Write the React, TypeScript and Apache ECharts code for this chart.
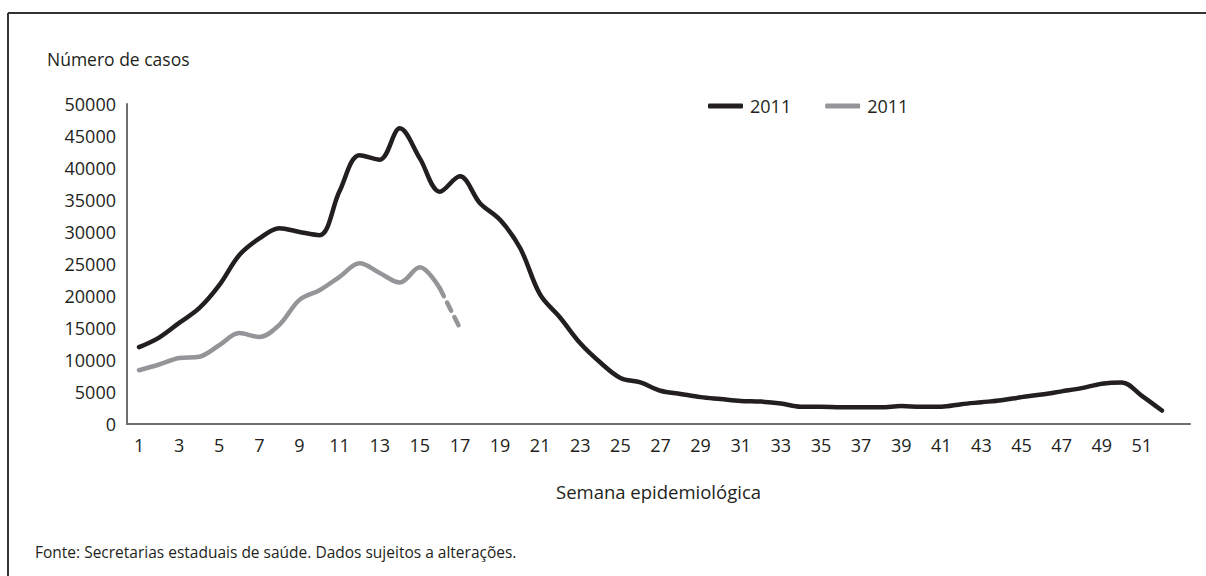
import React, { useEffect, useRef } from "react";
import * as echarts from "echarts";

const weeks = [
  1, 2, 3, 4, 5, 6, 7, 8, 9, 10, 11, 12, 13, 14, 15, 16, 17, 18, 19, 20, 21, 22, 23, 24, 25, 26,
  27, 28, 29, 30, 31, 32, 33, 34, 35, 36, 37, 38, 39, 40, 41, 42, 43, 44, 45, 46, 47, 48, 49, 50, 51, 52,
];

const cases2011 = [
  12000, 13500, 15800, 18100, 21700, 26400, 29000, 30600, 30000, 29500, 36400, 42000, 41300, 46200, 41500,
  36300, 38700, 34500, 31900, 27500, 20200, 16600, 12600, 9600, 7200, 6500, 5200, 4700, 4200, 3900, 3600,
  3500, 3200, 2700, 2700, 2600, 2600, 2600, 2800, 2700, 2700, 3100, 3400, 3700, 4200, 4600, 5100, 5600,
  6300, 6500, 4400, 2100,
];

const casesGraySolid = [
  8400, 9300, 10300, 10500, 12300, 14200, 13600, 15500, 19400, 20900, 23000, 25100, 23600, 22100, 24500, 21200,
];
const casesGrayDashed = [21200, 15000];
const grayDashedWeeks = [16, 17];

const xTickLabels = [1, 3, 5, 7, 9, 11, 13, 15, 17, 19, 21, 23, 25, 27, 29, 31, 33, 35, 37, 39, 41, 43, 45, 47, 49, 51];

const legendNames = ["2011", "2011 "];
const yAxisTitle = "Número de casos";
const xAxisTitle = "Semana epidemiológica";
const sourceNote = "Fonte: Secretarias estaduais de saúde. Dados sujeitos a alterações.";

const FONT = "'Open Sans', 'Noto Sans', sans-serif";
const TEXT = "#231f20";
const BLACK = "#231f20";
const GRAY = "#939598";
const AXIS = "#6d6e71";

export default function App() {
  const ref = useRef<HTMLDivElement>(null);

  useEffect(() => {
    if (!ref.current) return;
    const chart = echarts.init(ref.current, null, { renderer: "svg" });

    const blackData = weeks.map((w, i) => [w, cases2011[i]]);
    const graySolidData = casesGraySolid.map((v, i) => [weeks[i], v]);
    const grayDashedData = casesGrayDashed.map((v, i) => [grayDashedWeeks[i], v]);

    chart.setOption({
      animation: false,
      backgroundColor: "#ffffff",
      textStyle: { fontFamily: FONT, color: TEXT },
      grid: { left: 127, right: 16, top: 104, bottom: 152, containLabel: false },
      legend: {
        data: legendNames,
        left: 703,
        top: 92,
        icon: "roundRect",
        itemWidth: 35,
        itemHeight: 5,
        itemGap: 34,
        formatter: (name: string) => name.trim(),
        textStyle: { fontFamily: FONT, fontSize: 18, color: TEXT, padding: [0, 0, 0, 2] },
      },
      xAxis: {
        type: "value",
        min: 0.4,
        max: 53.4,
        splitLine: { show: false },
        axisTick: { show: false },
        axisLine: { show: true, lineStyle: { color: AXIS, width: 2 } },
        axisLabel: {
          customValues: xTickLabels,
          margin: 12,
          fontFamily: FONT,
          fontSize: 18,
          color: TEXT,
        },
        name: xAxisTitle,
        nameLocation: "middle",
        nameGap: 58,
        nameTextStyle: { fontFamily: FONT, fontSize: 18.5, color: TEXT },
      },
      yAxis: {
        type: "value",
        min: 0,
        max: 50000,
        interval: 5000,
        splitLine: { show: false },
        axisTick: { show: false },
        axisLine: { show: true, lineStyle: { color: AXIS, width: 2 } },
        axisLabel: {
          margin: 11,
          fontFamily: FONT,
          fontSize: 18,
          color: TEXT,
          formatter: (v: number) => String(v),
        },
      },
      graphic: [
        {
          type: "line",
          shape: { x1: 8, y1: 13, x2: 1206, y2: 13 },
          style: { stroke: "#333333", lineWidth: 2 },
        },
        {
          type: "line",
          shape: { x1: 8, y1: 13, x2: 8, y2: 576 },
          style: { stroke: "#333333", lineWidth: 2 },
        },
        {
          type: "text",
          left: 47,
          top: 50,
          style: { text: yAxisTitle, fontFamily: FONT, fontSize: 17.5, fill: TEXT },
        },
        {
          type: "text",
          left: 35,
          top: 544,
          style: { text: sourceNote, fontFamily: FONT, fontSize: 15.5, fill: TEXT },
        },
      ],
      series: [
        {
          name: legendNames[0],
          type: "line",
          data: blackData,
          smooth: 0.35,
          showSymbol: false,
          symbol: "none",
          itemStyle: { color: BLACK },
          lineStyle: { color: BLACK, width: 4.5, cap: "round", join: "round" },
          z: 3,
        },
        {
          name: legendNames[1],
          type: "line",
          data: graySolidData,
          smooth: 0.35,
          showSymbol: false,
          symbol: "none",
          itemStyle: { color: GRAY },
          lineStyle: { color: GRAY, width: 4.5, cap: "round", join: "round" },
          z: 2,
        },
        {
          name: "2011 parcial",
          type: "line",
          data: grayDashedData,
          smooth: 0.35,
          showSymbol: false,
          symbol: "none",
          itemStyle: { color: GRAY },
          lineStyle: { color: GRAY, width: 4.5, type: [9, 7], cap: "round" },
          z: 2,
        },
      ],
    });

    return () => chart.dispose();
  }, []);

  return (
    <div
      ref={ref}
      style={{ position: "fixed", left: 0, top: 0, width: 1206, height: 576, background: "#fff" }}
    />
  );
}
